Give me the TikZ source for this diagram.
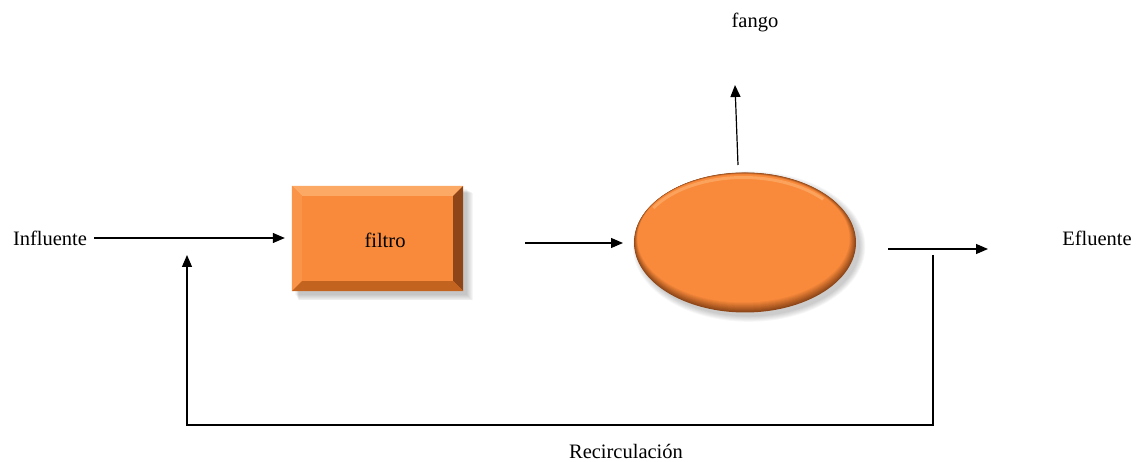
\documentclass[tikz,border=0pt]{standalone}
\usepackage{fontspec}
\setmainfont{Liberation Serif}
\usetikzlibrary{arrows.meta}
\definecolor{orfaceface}{HTML}{F98A3B}
\definecolor{orlight}{HTML}{FCA966}
\definecolor{orleft}{HTML}{FA9448}
\definecolor{ordark}{HTML}{8E4618}
\definecolor{orbot}{HTML}{C2631F}
\begin{document}
\begin{tikzpicture}[x=1pt,y=-1pt,
  arr/.style={-{Triangle[length=12pt,width=10pt]}, line width=1.2pt},
  lbl/.style={font=\fontsize{20.5}{24}\selectfont, inner sep=0pt, anchor=center}]
\useasboundingbox (0,0) rectangle (1146,462);
% texts
\node[lbl] (inf) at (50,238) {Influente};
\node[lbl] (efl) at (1097,238) {Efluente};
\node[lbl] (fango) at (755,22) {fango};
\node[lbl] (rec) at (626,451) {Recirculación};
% shape anchors
\node[inner sep=0, minimum width=171pt, minimum height=105pt] (filtro) at (377.5,238.5) {};
\node[inner sep=0, minimum width=222pt, minimum height=141pt] (reactor) at (745,242.5) {};
% box shadow
\foreach \i in {1,...,7}{
  \fill[black, opacity=0.035] ([xshift=3pt+\i*0.6pt,yshift=-3pt-\i*0.6pt]filtro.north west) rectangle ([xshift=3pt+\i*0.9pt,yshift=-3pt-\i*0.9pt]filtro.south east);
}
% box bevel
\fill[orfaceface] (filtro.north west) rectangle (filtro.south east);
\fill[orlight] (filtro.north west) -- (filtro.north east) -- ([xshift=-10pt,yshift=-10pt]filtro.north east) -- ([xshift=10pt,yshift=-10pt]filtro.north west) -- cycle;
\fill[orleft] (filtro.north west) -- ([xshift=10pt,yshift=-10pt]filtro.north west) -- ([xshift=10pt,yshift=10pt]filtro.south west) -- (filtro.south west) -- cycle;
\fill[ordark] (filtro.north east) -- (filtro.south east) -- ([xshift=-10pt,yshift=10pt]filtro.south east) -- ([xshift=-10pt,yshift=-10pt]filtro.north east) -- cycle;
\fill[orbot] (filtro.south west) -- (filtro.south east) -- ([xshift=-10pt,yshift=10pt]filtro.south east) -- ([xshift=10pt,yshift=10pt]filtro.south west) -- cycle;
\fill[orfaceface] ([xshift=10pt,yshift=-10pt]filtro.north west) rectangle ([xshift=-10pt,yshift=10pt]filtro.south east);
\node[lbl] (filtrotxt) at (385,240) {filtro};
% ellipse shadow
\foreach \i in {1,...,7}{
  \fill[black, opacity=0.03] ([xshift=4pt,yshift=-4pt]reactor.center) ellipse [x radius=110pt+\i*0.9pt, y radius=69pt+\i*0.9pt];
}
% ellipse rim gradient
\foreach \i in {0,...,10}{
  \pgfmathsetmacro{\mixv}{\i*10}
  \fill[orfaceface!\mixv!ordark] ([xshift=-\i*0.15pt,yshift=\i*0.4pt]reactor.center) ellipse [x radius=111pt-\i*0.5pt, y radius=70pt-\i*0.6pt];
}
\fill[orfaceface] ([xshift=-1.5pt,yshift=4pt]reactor.center) ellipse [x radius=105pt, y radius=63pt];
\draw[orlight, line width=3pt, opacity=0.8] ([xshift=-1.5pt,yshift=4pt]reactor.center) ++(150:104pt and 61pt) arc [start angle=150, end angle=40, x radius=104pt, y radius=61pt];
% connectors
\coordinate (c1) at (525,243);
\coordinate (c2) at (623,243);
\coordinate (u1) at (738,165);
\coordinate (u2) at (735,85);
\coordinate (o1) at (888,249);
\coordinate (o2) at (988,249);
\coordinate (r1) at (933,255);
\coordinate (r2) at (187,255);
\draw[arr, shorten <=7pt, shorten >=7pt] (inf.east) -- (inf.east -| filtro.west);
\draw[arr] (c1) -- (c2);
\draw[arr] (u1) -- (u2);
\draw[arr] (o1) -- (o2);
\draw[arr] (r1) -- (933,425) -| (r2);
\end{tikzpicture}
\end{document}
